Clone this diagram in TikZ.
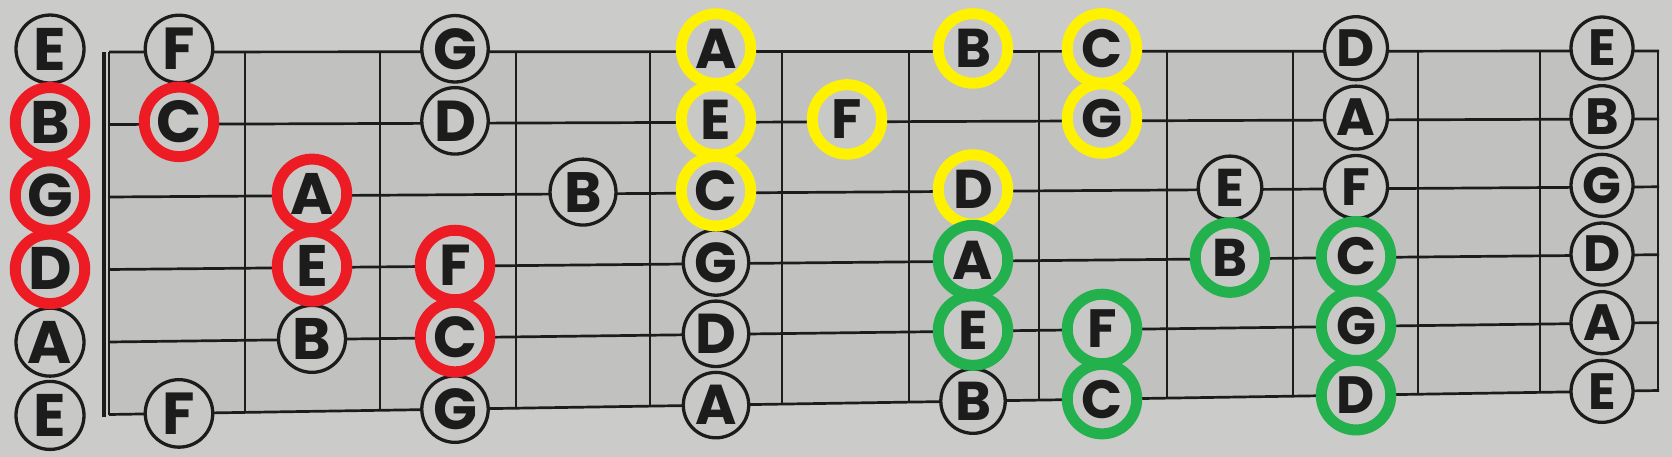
\documentclass[tikz,border=0pt]{standalone}
\usepackage{fontspec}
\setmainfont{Poppins}
\definecolor{paper}{HTML}{CBCBC9}
\definecolor{board}{HTML}{C1C1BF}
\definecolor{disc}{HTML}{C8C8C6}
\definecolor{ink}{HTML}{1C1C1C}
\definecolor{pRed}{HTML}{ED1C24}
\definecolor{pYellow}{HTML}{FFF200}
\definecolor{pGreen}{HTML}{22B14C}
\tikzset{
  note/.style={circle, draw=ink, line width=3.3pt, fill=disc, inner sep=0pt, text=ink},
  redring/.style={draw=pRed, line width=11pt, minimum size=69.5pt},
  yellowring/.style={draw=pYellow, line width=11pt, minimum size=69.5pt},
  greenring/.style={draw=pGreen, line width=11pt, minimum size=69.5pt},
  gridline/.style={draw=ink, line width=2.7pt},
  nutline/.style={draw=ink, line width=4.3pt},
}
% #1 string index (0 = top), #2 x position, #3 letter, #4 extra style
\newcommand\fbnote[4]{%
  \pgfmathsetmacro\fbR{((#2)-109)/1549}%
  \pgfmathsetmacro\fbT{52-\fbR}%
  \pgfmathsetmacro\fbB{414.5-24*\fbR}%
  \pgfmathsetmacro\fbY{\fbT+(#1)*(\fbB-\fbT)/5-3+0.6*(#1)}%
  \pgfmathsetmacro\fbQ{((#2)-50)/1552}%
  \pgfmathsetmacro\fbS{68-6*\fbQ}%
  \pgfmathsetmacro\fbF{60-9*\fbQ}%
  \node[note, minimum size=\fbS pt, font=\fontsize{\fbF}{\fbF}\selectfont\bfseries, #4] (n#1x#2) at (#2,\fbY) {#3};%
}
\begin{document}
\begin{tikzpicture}[x=1pt, y=-1pt]
\useasboundingbox (0,0) rectangle (1672,457);
\fill[paper] (0,0) rectangle (1672,457);
% strings
\foreach \k in {0,...,5} {
  \pgfmathsetmacro\yl{52+\k*(414.5-52)/5}
  \pgfmathsetmacro\yr{51+\k*(390.5-51)/5}
  \coordinate (sL\k) at (109,\yl);
  \coordinate (sR\k) at (1659,\yr);
}
\fill[board] (sL0) -- (sR0) -- (sR5) -- (sL5) -- cycle;
\foreach \k in {0,...,5} { \draw[gridline] (sL\k) -- (sR\k); }
% frets
\foreach \i/\fx in {0/109,1/245,2/380,3/516,4/650,5/782,6/909,7/1039,8/1167,9/1293,10/1418,11/1540,12/1658} {
  \pgfmathsetmacro\fr{(\fx-109)/1549}
  \pgfmathsetmacro\ft{52-\fr}
  \pgfmathsetmacro\fb{414.5-24*\fr}
  \coordinate (fT\i) at (\fx,\ft);
  \coordinate (fB\i) at (\fx,\fb);
  \draw[gridline] (fT\i) -- (fB\i);
}
% nut
\coordinate (nutT) at (104,52);
\coordinate (nutB) at (104,417);
\draw[nutline] (nutT) -- (nutB);
% plain notes
\fbnote{0}{50}{E}{}
\fbnote{0}{179}{F}{}
\fbnote{0}{455}{G}{}
\fbnote{0}{1356}{D}{}
\fbnote{0}{1602}{E}{}
\fbnote{1}{455}{D}{}
\fbnote{1}{1356}{A}{}
\fbnote{1}{1602}{B}{}
\fbnote{2}{583}{B}{}
\fbnote{2}{1230}{E}{}
\fbnote{2}{1356}{F}{}
\fbnote{2}{1602}{G}{}
\fbnote{3}{716}{G}{}
\fbnote{3}{1602}{D}{}
\fbnote{4}{50}{A}{}
\fbnote{4}{312}{B}{}
\fbnote{4}{716}{D}{}
\fbnote{4}{1602}{A}{}
\fbnote{5}{50}{E}{}
\fbnote{5}{179}{F}{}
\fbnote{5}{455}{G}{}
\fbnote{5}{716}{A}{}
\fbnote{5}{973}{B}{}
\fbnote{5}{1602}{E}{}
% red
\fbnote{1}{50}{B}{redring}
\fbnote{2}{50}{G}{redring}
\fbnote{3}{50}{D}{redring}
\fbnote{1}{179}{C}{redring}
\fbnote{2}{312}{A}{redring}
\fbnote{3}{312}{E}{redring}
\fbnote{3}{455}{F}{redring}
\fbnote{4}{455}{C}{redring}
% yellow
\fbnote{0}{716}{A}{yellowring}
\fbnote{1}{716}{E}{yellowring}
\fbnote{2}{716}{C}{yellowring}
\fbnote{1}{847}{F}{yellowring}
\fbnote{0}{973}{B}{yellowring}
\fbnote{2}{973}{D}{yellowring}
\fbnote{0}{1102}{C}{yellowring}
\fbnote{1}{1102}{G}{yellowring}
% green
\fbnote{3}{973}{A}{greenring}
\fbnote{4}{973}{E}{greenring}
\fbnote{4}{1102}{F}{greenring}
\fbnote{5}{1102}{C}{greenring}
\fbnote{3}{1230}{B}{greenring}
\fbnote{3}{1356}{C}{greenring}
\fbnote{4}{1356}{G}{greenring}
\fbnote{5}{1356}{D}{greenring}
\end{tikzpicture}
\end{document}
